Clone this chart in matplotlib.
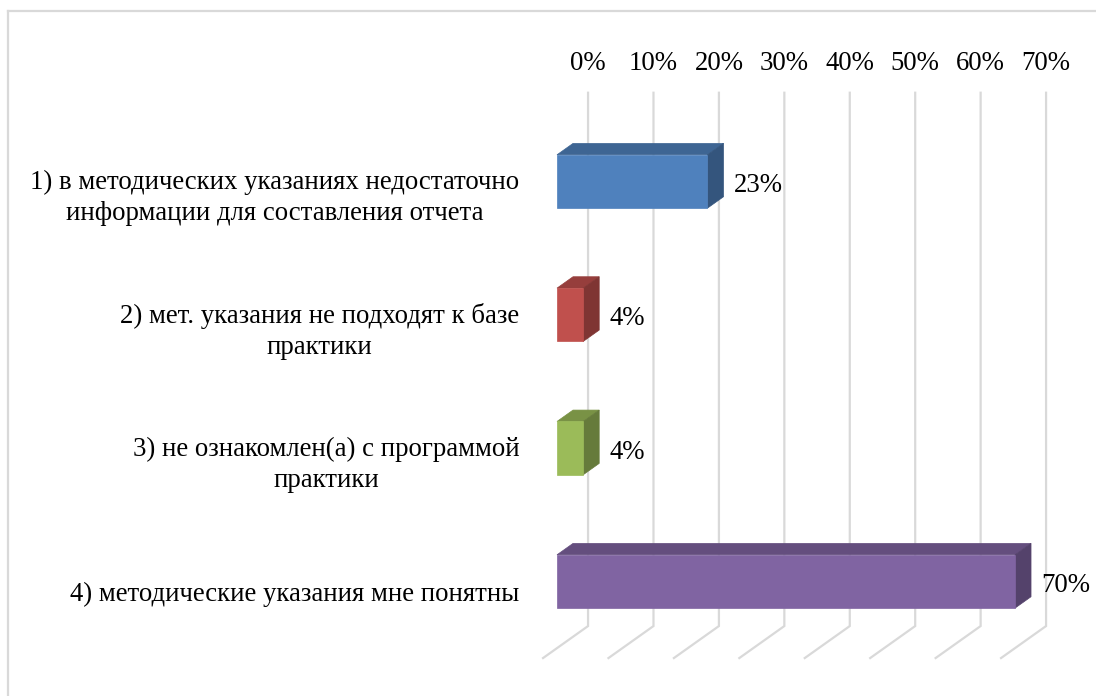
import numpy as np
import matplotlib
matplotlib.use("Agg")
import matplotlib.pyplot as plt
from matplotlib.patches import Polygon
from matplotlib.lines import Line2D

# data
categories = ['1) в методических указаниях недостаточно\nинформации для составления отчета',
              '2) мет. указания не подходят к базе\nпрактики',
              '3) не ознакомлен(а) с программой\nпрактики',
              '4) методические указания мне понятны']
values = [0.23, 0.04, 0.04, 0.70]
value_labels = ['23%', '4%', '4%', '70%']
ticks = [0.0, 0.1, 0.2, 0.3, 0.4, 0.5, 0.6, 0.7]
tick_labels = ['0%', '10%', '20%', '30%', '40%', '50%', '60%', '70%']
colors = ['#4F81BD', '#C0504D', '#9BBB59', '#8064A2']

plt.rcParams['font.family'] = ['Liberation Serif', 'DejaVu Serif']
FS = 19.3

# pseudo-3d projection (oblique): depth z from 0 (front of floor) to 1 (back wall)
DX = 0.0688   # x shift of full depth, data units
DY = 0.24     # y shift of full depth, category units
Z0 = 0.31     # front plane of bars
ZB = 0.666    # back plane of bars
HALF = 0.2    # half bar height


def proj(v, y, z):
    return v + (z - Z0) * DX, y - (z - Z0) * DY


def shade(c, f):
    r, g, b = matplotlib.colors.to_rgb(c)
    return (r * f, g * f, b * f)


fig = plt.figure(figsize=(10.96, 6.96), dpi=100)
ax = fig.add_axes([0, 0, 1, 1])
ax.set_xlim(-0.8513, 0.8238)
ax.set_ylim(3.859, -1.361)
ax.axis('off')

n = len(categories)
ytop, ybot = -0.5, n - 0.5

# gridlines: back wall + floor
for t, tl in zip(ticks, tick_labels):
    p1 = proj(t, ytop, 1)
    p2 = proj(t, ybot, 1)
    p3 = proj(t, ybot, 0)
    ax.plot([p1[0], p2[0], p3[0]], [p1[1], p2[1], p3[1]], color='#D9D9D9',
            lw=1.6, zorder=1, solid_joinstyle='miter')
    ax.annotate(tl, p1, xytext=(0, 21), textcoords='offset points',
                ha='center', va='center', fontsize=FS, color='#000000')

# bars
for i, (v, c) in enumerate(zip(values, colors)):
    y0, y1 = i - HALF, i + HALF
    front = [proj(0, y0, Z0), proj(v, y0, Z0), proj(v, y1, Z0), proj(0, y1, Z0)]
    top = [proj(0, y0, Z0), proj(v, y0, Z0), proj(v, y0, ZB), proj(0, y0, ZB)]
    side = [proj(v, y0, Z0), proj(v, y1, Z0), proj(v, y1, ZB), proj(v, y0, ZB)]
    ax.add_patch(Polygon(top, closed=True, fc=shade(c, 0.78), ec=shade(c, 0.78), lw=0.5, zorder=3))
    ax.add_patch(Polygon(side, closed=True, fc=shade(c, 0.66), ec=shade(c, 0.66), lw=0.5, zorder=3))
    ax.add_patch(Polygon(front, closed=True, fc=c, ec=c, lw=0.5, zorder=4))
    ax.annotate(value_labels[i], (v, i), xytext=(19, -3), textcoords='offset points',
                ha='left', va='center', fontsize=FS)

# category labels
for i, lab in enumerate(categories):
    p = proj(0, i, 0)
    dy = -5 if '\n' in lab else -2
    ax.annotate(lab, p, xytext=(-17, dy), textcoords='offset points',
                ha='right', va='center', multialignment='center',
                fontsize=FS, linespacing=1.32)

# chart area border (top and left)
fig.add_artist(Line2D([8 / 1096, 1], [1 - 11 / 696, 1 - 11 / 696], transform=fig.transFigure,
                      color='#D9D9D9', lw=1.6))
fig.add_artist(Line2D([8 / 1096, 8 / 1096], [0, 1 - 11 / 696], transform=fig.transFigure,
                      color='#D9D9D9', lw=1.6))

fig.savefig('out.png', dpi=100)
